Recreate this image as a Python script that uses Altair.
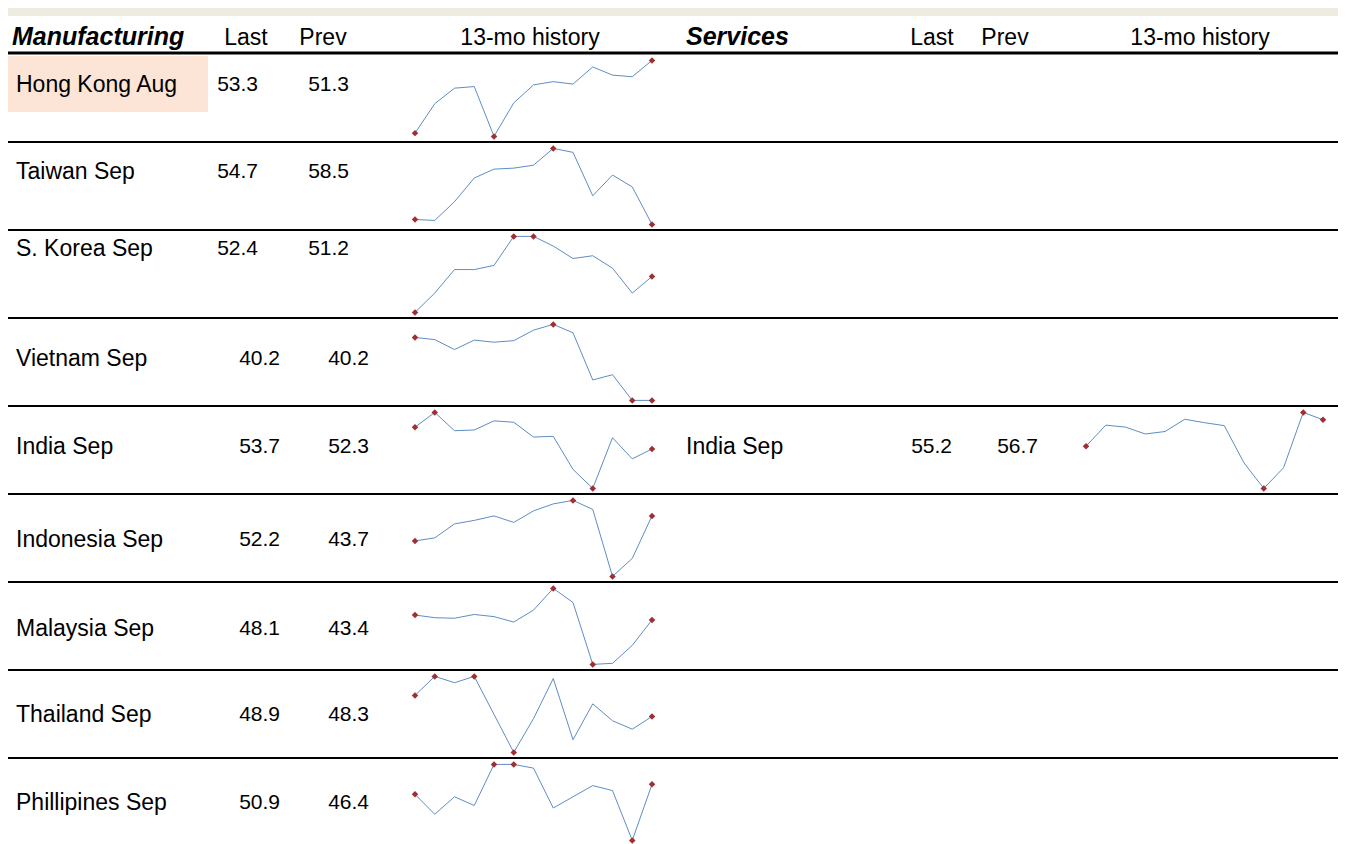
import altair as alt
import pandas as pd

# ---------------- data ----------------
countries = ["Hong Kong Aug", "Taiwan Sep", "S. Korea Sep", "Vietnam Sep", "India Sep",
             "Indonesia Sep", "Malaysia Sep", "Thailand Sep", "Phillipines Sep"]
mfg_last = [53.3, 54.7, 52.4, 40.2, 53.7, 52.2, 48.1, 48.9, 50.9]
mfg_prev = [51.3, 58.5, 51.2, 40.2, 52.3, 43.7, 43.4, 48.3, 46.4]
mfg_history = [
    [44.4, 48.0, 49.9, 50.1, 44.0, 48.1, 50.3, 50.7, 50.4, 52.5, 51.5, 51.3, 53.3],
    [55.2, 55.1, 57.0, 59.4, 60.3, 60.4, 60.7, 62.4, 62.0, 57.6, 59.7, 58.5, 54.7],
    [49.8, 51.2, 52.9, 52.9, 53.2, 55.3, 55.3, 54.6, 53.7, 53.9, 53.0, 51.2, 52.4],
    [52.2, 51.8, 49.9, 51.7, 51.3, 51.6, 53.6, 54.7, 53.1, 44.1, 45.1, 40.2, 40.2],
    [56.8, 58.9, 56.3, 56.4, 57.7, 57.5, 55.4, 55.5, 50.8, 48.1, 55.3, 52.3, 53.7],
    [47.2, 47.8, 50.6, 51.3, 52.2, 50.9, 53.2, 54.6, 55.3, 53.5, 40.1, 43.7, 52.2],
    [49.0, 48.5, 48.4, 49.1, 48.7, 47.7, 49.9, 53.9, 51.3, 39.9, 40.1, 43.4, 48.1],
    [49.9, 50.8, 50.5, 50.8, 49.0, 47.2, 48.8, 50.7, 47.8, 49.5, 48.7, 48.3, 48.9],
    [50.1, 48.5, 49.9, 49.2, 52.5, 52.5, 52.2, 49.0, 49.9, 50.8, 50.4, 46.4, 50.9],
]
svc_countries = ["India Sep"]
svc_rows = [4]
svc_last = [55.2]
svc_prev = [56.7]
svc_history = [
    [49.8, 54.1, 53.7, 52.3, 52.8, 55.3, 54.6, 54.0, 46.4, 41.2, 45.4, 56.7, 55.2],
]
header_mfg = ["Manufacturing", "Last", "Prev", "13-mo history"]
header_svc = ["Services", "Last", "Prev", "13-mo history"]

# ---------------- layout ----------------
W, H = 1341, 836
ROW_TOP, ROW_H = 46, 88
N = len(countries)
LINE_RIGHT = 1330
PAD_T, SPAN = 6.4, 76.0
LABEL_DY = [31, 30, 19, 41, 41, 46, 47, 45, 45]
LAST_X = [250, 250, 250, 272, 272, 272, 272, 272, 272]
PREV_X = [341, 341, 341, 361, 361, 361, 361, 361, 361]
MFG_SPARK_X = (407, 644)
SVC_SPARK_X = (1078, 1315)

FONT = "Liberation Sans, Arial, sans-serif"
NARROW = "Liberation Sans Narrow, Arial Narrow, Liberation Sans, Arial, sans-serif"
LINE_COLOR = "#5F8CC6"
MARK_COLOR = "#A03030"

yscale = alt.Scale(domain=[0, N], range=[ROW_TOP, ROW_TOP + N * ROW_H], zero=False, nice=False)
one = pd.DataFrame({"k": [0]})

layers = []

# top band
layers.append(alt.Chart(one).mark_rect(color="#EEECE1").encode(
    x=alt.value(0), x2=alt.value(LINE_RIGHT), y=alt.value(0), y2=alt.value(8)))

# highlight cell
hl = pd.DataFrame({"row": [0]})
layers.append(alt.Chart(hl).transform_calculate(
    a=f"datum.row + 2/{ROW_H}", b=f"datum.row + 58/{ROW_H}"
).mark_rect(color="#FCE4D6").encode(
    x=alt.value(0), x2=alt.value(200),
    y=alt.Y("a:Q", scale=yscale, axis=None), y2="b:Q"))

# header rule and row rules
layers.append(alt.Chart(one).mark_rule(color="black", strokeWidth=3).encode(
    x=alt.value(0), x2=alt.value(LINE_RIGHT), y=alt.value(ROW_TOP - 1)))
rules = pd.DataFrame({"b": list(range(1, N))})
layers.append(alt.Chart(rules).mark_rule(color="black", strokeWidth=2).encode(
    x=alt.value(0), x2=alt.value(LINE_RIGHT), y=alt.Y("b:Q", scale=yscale, axis=None)))

# headers
def htext(t, x, align, bold=False):
    return alt.Chart(pd.DataFrame({"t": [t]})).mark_text(
        align=align, baseline="alphabetic", font=NARROW, fontSize=25 if bold else 23,
        fontWeight="bold" if bold else "normal", fontStyle="italic" if bold else "normal",
        color="black").encode(x=alt.value(x), y=alt.value(37), text="t:N")

layers += [
    htext(header_mfg[0], 4, "left", True),
    htext(header_mfg[1], 238, "center"),
    htext(header_mfg[2], 315, "center"),
    htext(header_mfg[3], 522, "center"),
    htext(header_svc[0], 678, "left", True),
    htext(header_svc[1], 924, "center"),
    htext(header_svc[2], 997, "center"),
    htext(header_svc[3], 1192, "center"),
]

# table rows
tab = pd.DataFrame({"row": list(range(N)), "name": countries, "last": mfg_last,
                    "prev": mfg_prev, "dy": LABEL_DY})
base_t = alt.Chart(tab).transform_calculate(ty=f"datum.row + datum.dy/{ROW_H}")
layers.append(base_t.mark_text(align="left", baseline="middle", font=FONT, fontSize=23,
                               color="black").encode(
    x=alt.value(8), y=alt.Y("ty:Q", scale=yscale, axis=None), text="name:N"))
for r in range(N):
    sub = base_t.transform_filter(alt.datum.row == r)
    layers.append(sub.mark_text(align="right", baseline="middle", font=FONT, fontSize=21,
                                color="black").encode(
        x=alt.value(LAST_X[r]), y=alt.Y("ty:Q", scale=yscale, axis=None),
        text=alt.Text("last:Q", format=".1f")))
    layers.append(sub.mark_text(align="right", baseline="middle", font=FONT, fontSize=21,
                                color="black").encode(
        x=alt.value(PREV_X[r]), y=alt.Y("ty:Q", scale=yscale, axis=None),
        text=alt.Text("prev:Q", format=".1f")))

svc = pd.DataFrame({"row": svc_rows, "name": svc_countries, "last": svc_last, "prev": svc_prev,
                    "dy": [LABEL_DY[r] for r in svc_rows]})
base_s = alt.Chart(svc).transform_calculate(ty=f"datum.row + datum.dy/{ROW_H}")
layers.append(base_s.mark_text(align="left", baseline="middle", font=FONT, fontSize=23,
                               color="black").encode(
    x=alt.value(678), y=alt.Y("ty:Q", scale=yscale, axis=None), text="name:N"))
layers.append(base_s.mark_text(align="right", baseline="middle", font=FONT, fontSize=21,
                               color="black").encode(
    x=alt.value(944), y=alt.Y("ty:Q", scale=yscale, axis=None),
    text=alt.Text("last:Q", format=".1f")))
layers.append(base_s.mark_text(align="right", baseline="middle", font=FONT, fontSize=21,
                               color="black").encode(
    x=alt.value(1030), y=alt.Y("ty:Q", scale=yscale, axis=None),
    text=alt.Text("prev:Q", format=".1f")))

# sparklines
recs = []
for r, hist in enumerate(mfg_history):
    for m, v in enumerate(hist):
        recs.append({"row": r, "month": m, "value": v, "panel": "mfg"})
for r, hist in zip(svc_rows, svc_history):
    for m, v in enumerate(hist):
        recs.append({"row": r, "month": m, "value": v, "panel": "svc"})
spark = pd.DataFrame(recs)


def spark_layers(panel, xr):
    b = alt.Chart(spark).transform_filter(alt.datum.panel == panel).transform_joinaggregate(
        vmin="min(value)", vmax="max(value)", groupby=["row"]
    ).transform_calculate(
        yy=f"datum.row + ({PAD_T} + (1 - (datum.value - datum.vmin)/(datum.vmax - datum.vmin)) * {SPAN}) / {ROW_H}"
    )
    xs = alt.Scale(domain=[0, 12], range=list(xr), zero=False, nice=False)
    line = b.mark_line(color=LINE_COLOR, strokeWidth=1).encode(
        x=alt.X("month:Q", scale=xs, axis=None),
        y=alt.Y("yy:Q", scale=yscale, axis=None),
        detail="row:N")
    pts = b.transform_filter(
        "datum.month == 0 || datum.month == 12 || datum.value == datum.vmin || datum.value == datum.vmax"
    ).mark_point(shape="diamond", filled=True, color=MARK_COLOR, size=42, opacity=1).encode(
        x=alt.X("month:Q", scale=xs, axis=None),
        y=alt.Y("yy:Q", scale=yscale, axis=None))
    return alt.layer(line, pts)


layers.append(spark_layers("mfg", MFG_SPARK_X))
layers.append(spark_layers("svc", SVC_SPARK_X))

chart = alt.layer(*layers).resolve_scale(x="independent").properties(
    width=W, height=H, padding=0, autosize="none"
).configure_view(stroke=None)

chart.save("out.html", embed_options={"renderer": "svg", "actions": False})
